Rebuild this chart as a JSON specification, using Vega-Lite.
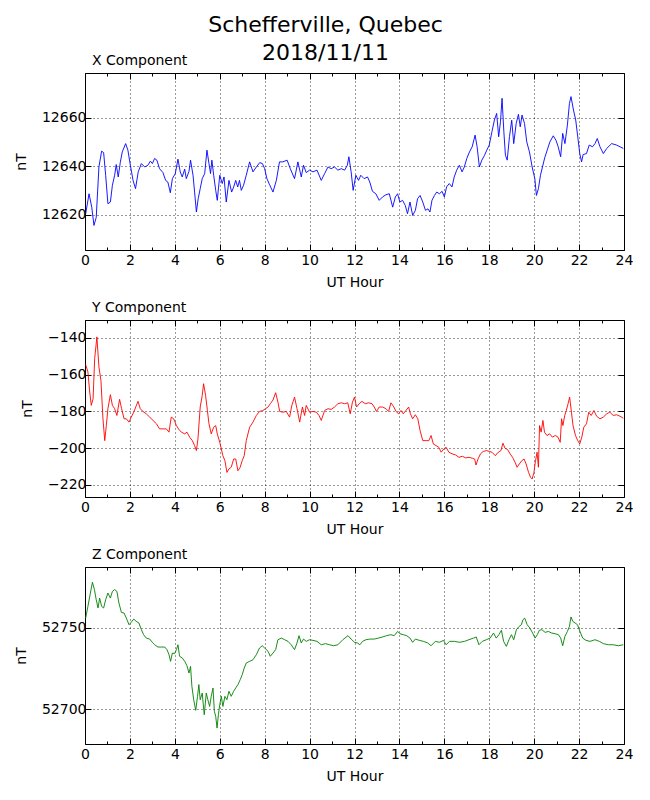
{
  "$schema": "https://vega.github.io/schema/vega-lite/v6.json",
  "background": "white",
  "padding": {"left": 13, "top": 14, "right": 10, "bottom": 10},
  "title": {
    "text": ["Schefferville, Quebec", "2018/11/11"],
    "font": "DejaVu Sans",
    "fontSize": 22,
    "fontWeight": "normal",
    "color": "black",
    "lineHeight": 27.7,
    "anchor": "middle",
    "frame": "group",
    "offset": -12,
    "dx": -29
  },
  "spacing": 70,
  "bounds": "flush",
  "datasets": {
    "xc": [
      {"h":0.03,"v":12620.5},{"h":0.18,"v":12628.7},{"h":0.3,"v":12623.2},{"h":0.4,"v":12615.7},{"h":0.5,"v":12619},{"h":0.62,"v":12639.7},{"h":0.74,"v":12646.2},{"h":0.83,"v":12645.6},{"h":0.92,"v":12636.3},{"h":1.02,"v":12624.6},{"h":1.13,"v":12625.3},{"h":1.22,"v":12632.2},{"h":1.32,"v":12636.3},{"h":1.39,"v":12640.7},{"h":1.48,"v":12635.6},{"h":1.57,"v":12641.5},{"h":1.66,"v":12645.9},{"h":1.81,"v":12649.3},{"h":1.91,"v":12646.6},{"h":2.02,"v":12640.4},{"h":2.14,"v":12634.2},{"h":2.25,"v":12630.8},{"h":2.37,"v":12637.7},{"h":2.51,"v":12641.1},{"h":2.66,"v":12639.7},{"h":2.8,"v":12640.4},{"h":2.91,"v":12642.1},{"h":3.0,"v":12641.1},{"h":3.1,"v":12643.2},{"h":3.2,"v":12642.5},{"h":3.32,"v":12639},{"h":3.47,"v":12637.4},{"h":3.59,"v":12634.2},{"h":3.69,"v":12633.5},{"h":3.8,"v":12629.1},{"h":3.89,"v":12634.9},{"h":4.02,"v":12637},{"h":4.14,"v":12642.9},{"h":4.24,"v":12637.7},{"h":4.33,"v":12635.6},{"h":4.44,"v":12638.8},{"h":4.51,"v":12634.9},{"h":4.63,"v":12637.9},{"h":4.7,"v":12642.5},{"h":4.81,"v":12636.3},{"h":4.88,"v":12629.4},{"h":4.96,"v":12621.2},{"h":5.04,"v":12626.7},{"h":5.13,"v":12630.8},{"h":5.22,"v":12634.9},{"h":5.33,"v":12637},{"h":5.43,"v":12646.6},{"h":5.52,"v":12641.1},{"h":5.59,"v":12637},{"h":5.65,"v":12642.5},{"h":5.73,"v":12636.3},{"h":5.82,"v":12630.1},{"h":5.89,"v":12626},{"h":6.0,"v":12636.3},{"h":6.11,"v":12632.9},{"h":6.19,"v":12635.6},{"h":6.29,"v":12625.3},{"h":6.41,"v":12634.2},{"h":6.53,"v":12629.4},{"h":6.62,"v":12631.5},{"h":6.71,"v":12634.2},{"h":6.8,"v":12631.5},{"h":6.88,"v":12634.2},{"h":6.96,"v":12630.1},{"h":7.06,"v":12632.2},{"h":7.18,"v":12636.3},{"h":7.33,"v":12641.8},{"h":7.48,"v":12637.7},{"h":7.63,"v":12639.7},{"h":7.78,"v":12641.5},{"h":7.9,"v":12641.1},{"h":8.0,"v":12639},{"h":8.1,"v":12634.9},{"h":8.22,"v":12632.4},{"h":8.37,"v":12629.4},{"h":8.52,"v":12634.2},{"h":8.66,"v":12641.8},{"h":8.81,"v":12641.8},{"h":9.0,"v":12642.5},{"h":9.14,"v":12639},{"h":9.33,"v":12634.9},{"h":9.48,"v":12641.8},{"h":9.63,"v":12635.6},{"h":9.73,"v":12640.4},{"h":9.85,"v":12637.4},{"h":10.0,"v":12638.4},{"h":10.15,"v":12637.7},{"h":10.33,"v":12638.4},{"h":10.52,"v":12634.2},{"h":10.67,"v":12637},{"h":10.82,"v":12639.7},{"h":10.96,"v":12639},{"h":11.11,"v":12639.7},{"h":11.26,"v":12638.4},{"h":11.41,"v":12639},{"h":11.56,"v":12638.4},{"h":11.68,"v":12640.4},{"h":11.75,"v":12643.9},{"h":11.85,"v":12637.7},{"h":11.94,"v":12630.1},{"h":12.06,"v":12636.3},{"h":12.18,"v":12634.2},{"h":12.28,"v":12636.3},{"h":12.43,"v":12634.9},{"h":12.58,"v":12635.6},{"h":12.68,"v":12633.5},{"h":12.8,"v":12629.7},{"h":12.95,"v":12628.7},{"h":13.1,"v":12626},{"h":13.25,"v":12627.4},{"h":13.4,"v":12628.3},{"h":13.55,"v":12628.7},{"h":13.7,"v":12623.2},{"h":13.82,"v":12627.4},{"h":13.92,"v":12628.7},{"h":14.02,"v":12625.3},{"h":14.14,"v":12626},{"h":14.26,"v":12623.9},{"h":14.36,"v":12620.5},{"h":14.47,"v":12625.3},{"h":14.59,"v":12619.8},{"h":14.71,"v":12621.9},{"h":14.81,"v":12626.7},{"h":14.92,"v":12628},{"h":15.04,"v":12625.3},{"h":15.16,"v":12621.9},{"h":15.27,"v":12622.5},{"h":15.36,"v":12621.2},{"h":15.45,"v":12626},{"h":15.56,"v":12628},{"h":15.66,"v":12629.4},{"h":15.78,"v":12628.7},{"h":15.9,"v":12629.7},{"h":16.0,"v":12627.4},{"h":16.1,"v":12631.5},{"h":16.22,"v":12632.9},{"h":16.34,"v":12631.5},{"h":16.44,"v":12635.6},{"h":16.55,"v":12638.4},{"h":16.67,"v":12640.4},{"h":16.79,"v":12637.7},{"h":16.89,"v":12639.7},{"h":17.0,"v":12643.2},{"h":17.12,"v":12645.9},{"h":17.24,"v":12648},{"h":17.37,"v":12652.8},{"h":17.46,"v":12648},{"h":17.56,"v":12639.7},{"h":17.67,"v":12642.5},{"h":17.79,"v":12644.5},{"h":17.89,"v":12646.6},{"h":18.0,"v":12648.7},{"h":18.12,"v":12654.2},{"h":18.23,"v":12659},{"h":18.33,"v":12661.7},{"h":18.42,"v":12652.1},{"h":18.5,"v":12658.3},{"h":18.57,"v":12667.9},{"h":18.65,"v":12654.2},{"h":18.72,"v":12644.5},{"h":18.8,"v":12642.5},{"h":18.9,"v":12652.1},{"h":19.0,"v":12658.9},{"h":19.09,"v":12649.3},{"h":19.2,"v":12657.6},{"h":19.3,"v":12661.3},{"h":19.38,"v":12656.2},{"h":19.46,"v":12661},{"h":19.57,"v":12657.6},{"h":19.67,"v":12650},{"h":19.79,"v":12645.9},{"h":19.91,"v":12639.7},{"h":20.03,"v":12634.9},{"h":20.1,"v":12628},{"h":20.19,"v":12630.8},{"h":20.28,"v":12636.3},{"h":20.37,"v":12639.7},{"h":20.47,"v":12643.5},{"h":20.58,"v":12646.6},{"h":20.7,"v":12650},{"h":20.85,"v":12652.5},{"h":20.97,"v":12650.7},{"h":21.07,"v":12648},{"h":21.18,"v":12643.9},{"h":21.27,"v":12653.5},{"h":21.37,"v":12649.3},{"h":21.48,"v":12656.9},{"h":21.57,"v":12665.8},{"h":21.64,"v":12668.6},{"h":21.75,"v":12663.1},{"h":21.85,"v":12659},{"h":21.95,"v":12651.4},{"h":22.03,"v":12645.2},{"h":22.11,"v":12641.8},{"h":22.18,"v":12644.8},{"h":22.33,"v":12645.2},{"h":22.45,"v":12648.7},{"h":22.6,"v":12648},{"h":22.71,"v":12649.3},{"h":22.81,"v":12651.4},{"h":22.93,"v":12648},{"h":23.08,"v":12645.2},{"h":23.23,"v":12647.3},{"h":23.45,"v":12649.3},{"h":23.67,"v":12648.7},{"h":23.82,"v":12648},{"h":23.97,"v":12647.3}
    ],
    "yc": [
      {"h":0.03,"v":-154.5},{"h":0.13,"v":-158.5},{"h":0.21,"v":-169.4},{"h":0.28,"v":-176.7},{"h":0.36,"v":-173.1},{"h":0.43,"v":-151.2},{"h":0.53,"v":-139.4},{"h":0.62,"v":-155.8},{"h":0.71,"v":-163.1},{"h":0.8,"v":-184},{"h":0.88,"v":-195.9},{"h":0.95,"v":-187.7},{"h":1.02,"v":-178.5},{"h":1.13,"v":-170.9},{"h":1.22,"v":-176.7},{"h":1.32,"v":-178.5},{"h":1.42,"v":-182.2},{"h":1.54,"v":-173.4},{"h":1.63,"v":-178.5},{"h":1.74,"v":-184},{"h":1.84,"v":-184},{"h":1.96,"v":-185.8},{"h":2.06,"v":-183.1},{"h":2.17,"v":-180.4},{"h":2.26,"v":-177.6},{"h":2.36,"v":-174.5},{"h":2.46,"v":-178.5},{"h":2.58,"v":-180},{"h":2.73,"v":-181.3},{"h":2.88,"v":-183.1},{"h":3.03,"v":-184.9},{"h":3.18,"v":-186.7},{"h":3.32,"v":-189.5},{"h":3.47,"v":-189.5},{"h":3.62,"v":-189.5},{"h":3.74,"v":-191.3},{"h":3.84,"v":-183.1},{"h":3.95,"v":-184},{"h":4.07,"v":-187.7},{"h":4.18,"v":-189.8},{"h":4.29,"v":-191.3},{"h":4.44,"v":-192.2},{"h":4.54,"v":-191.3},{"h":4.66,"v":-194},{"h":4.78,"v":-195.9},{"h":4.88,"v":-198.6},{"h":4.96,"v":-201.3},{"h":5.03,"v":-194.9},{"h":5.13,"v":-177.6},{"h":5.22,"v":-171.3},{"h":5.28,"v":-164.9},{"h":5.37,"v":-171.3},{"h":5.45,"v":-179.5},{"h":5.52,"v":-186.7},{"h":5.62,"v":-192.2},{"h":5.73,"v":-188.6},{"h":5.82,"v":-187.7},{"h":5.89,"v":-192.2},{"h":6.0,"v":-196.8},{"h":6.07,"v":-200.4},{"h":6.14,"v":-204.1},{"h":6.23,"v":-206.8},{"h":6.32,"v":-213.2},{"h":6.41,"v":-211.3},{"h":6.51,"v":-210.4},{"h":6.62,"v":-205.9},{"h":6.71,"v":-205.9},{"h":6.81,"v":-212.3},{"h":6.91,"v":-210.4},{"h":7.0,"v":-206.8},{"h":7.09,"v":-204.1},{"h":7.18,"v":-195.9},{"h":7.33,"v":-188.6},{"h":7.48,"v":-185.8},{"h":7.63,"v":-182.2},{"h":7.77,"v":-180},{"h":7.92,"v":-179.5},{"h":8.04,"v":-178.5},{"h":8.15,"v":-177.6},{"h":8.25,"v":-175.8},{"h":8.37,"v":-173.8},{"h":8.49,"v":-169.8},{"h":8.59,"v":-174.9},{"h":8.67,"v":-180},{"h":8.81,"v":-180.4},{"h":8.96,"v":-180},{"h":9.11,"v":-183.1},{"h":9.21,"v":-176.7},{"h":9.33,"v":-172.2},{"h":9.44,"v":-178.5},{"h":9.56,"v":-185.8},{"h":9.68,"v":-177.6},{"h":9.78,"v":-182.2},{"h":9.85,"v":-176.7},{"h":10.0,"v":-180.4},{"h":10.15,"v":-180},{"h":10.3,"v":-180.4},{"h":10.42,"v":-182.2},{"h":10.52,"v":-184.9},{"h":10.67,"v":-179.5},{"h":10.82,"v":-178.5},{"h":10.96,"v":-178.9},{"h":11.11,"v":-177.6},{"h":11.26,"v":-175.8},{"h":11.41,"v":-175.3},{"h":11.56,"v":-175.8},{"h":11.7,"v":-175.3},{"h":11.81,"v":-181.3},{"h":11.91,"v":-174.9},{"h":12.0,"v":-172.2},{"h":12.09,"v":-177.6},{"h":12.21,"v":-175.8},{"h":12.33,"v":-174.5},{"h":12.48,"v":-175.8},{"h":12.63,"v":-175.3},{"h":12.78,"v":-175.8},{"h":12.88,"v":-177.6},{"h":12.98,"v":-180},{"h":13.1,"v":-177.6},{"h":13.25,"v":-177.6},{"h":13.4,"v":-178.5},{"h":13.52,"v":-180},{"h":13.62,"v":-175.3},{"h":13.73,"v":-177.1},{"h":13.85,"v":-180},{"h":13.96,"v":-181.3},{"h":14.07,"v":-179.5},{"h":14.17,"v":-181.3},{"h":14.29,"v":-179.5},{"h":14.41,"v":-177.6},{"h":14.49,"v":-181.3},{"h":14.59,"v":-184},{"h":14.71,"v":-181.8},{"h":14.82,"v":-184},{"h":14.92,"v":-190.4},{"h":15.04,"v":-195.9},{"h":15.19,"v":-195.9},{"h":15.31,"v":-195.9},{"h":15.41,"v":-193.1},{"h":15.51,"v":-197.7},{"h":15.63,"v":-198.6},{"h":15.75,"v":-199.5},{"h":15.86,"v":-202.2},{"h":15.98,"v":-200.4},{"h":16.08,"v":-199.5},{"h":16.2,"v":-202.2},{"h":16.35,"v":-203.1},{"h":16.5,"v":-203.7},{"h":16.65,"v":-205},{"h":16.8,"v":-204.4},{"h":16.95,"v":-205.3},{"h":17.1,"v":-205},{"h":17.25,"v":-205.5},{"h":17.35,"v":-205.9},{"h":17.41,"v":-209.2},{"h":17.5,"v":-205.9},{"h":17.61,"v":-203.1},{"h":17.73,"v":-201.8},{"h":17.88,"v":-201.3},{"h":18.0,"v":-201.8},{"h":18.12,"v":-202.2},{"h":18.27,"v":-204.1},{"h":18.37,"v":-202.6},{"h":18.52,"v":-201.3},{"h":18.61,"v":-197.3},{"h":18.7,"v":-200},{"h":18.82,"v":-200.8},{"h":18.93,"v":-203.1},{"h":19.04,"v":-205},{"h":19.15,"v":-207.7},{"h":19.24,"v":-210.4},{"h":19.34,"v":-208.6},{"h":19.45,"v":-206.8},{"h":19.55,"v":-205.9},{"h":19.64,"v":-208.6},{"h":19.75,"v":-213.2},{"h":19.84,"v":-215.9},{"h":19.91,"v":-216.8},{"h":19.99,"v":-213.2},{"h":20.06,"v":-206.8},{"h":20.13,"v":-202.2},{"h":20.19,"v":-210.4},{"h":20.24,"v":-187.7},{"h":20.31,"v":-191.3},{"h":20.39,"v":-184.9},{"h":20.46,"v":-191.3},{"h":20.57,"v":-193.1},{"h":20.69,"v":-192.2},{"h":20.81,"v":-194},{"h":20.94,"v":-193.1},{"h":21.06,"v":-194},{"h":21.16,"v":-196.8},{"h":21.22,"v":-184},{"h":21.28,"v":-187.7},{"h":21.36,"v":-182.2},{"h":21.43,"v":-179.5},{"h":21.51,"v":-175.8},{"h":21.58,"v":-172.2},{"h":21.66,"v":-180.4},{"h":21.73,"v":-187.7},{"h":21.84,"v":-193.1},{"h":21.94,"v":-195.9},{"h":22.03,"v":-197.7},{"h":22.12,"v":-194},{"h":22.21,"v":-188.6},{"h":22.33,"v":-186.7},{"h":22.43,"v":-180.4},{"h":22.54,"v":-182.2},{"h":22.66,"v":-179.5},{"h":22.78,"v":-182.6},{"h":22.93,"v":-184},{"h":23.08,"v":-183.1},{"h":23.23,"v":-181.3},{"h":23.37,"v":-180.4},{"h":23.52,"v":-182.2},{"h":23.67,"v":-181.8},{"h":23.82,"v":-182.6},{"h":23.97,"v":-183.7}
    ],
    "zc": [
      {"h":0.03,"v":52755.9},{"h":0.13,"v":52763.1},{"h":0.24,"v":52771.3},{"h":0.33,"v":52777.9},{"h":0.42,"v":52773.4},{"h":0.5,"v":52767.2},{"h":0.58,"v":52762.1},{"h":0.65,"v":52768.2},{"h":0.74,"v":52763.1},{"h":0.83,"v":52762.1},{"h":0.92,"v":52767.2},{"h":1.02,"v":52771.3},{"h":1.13,"v":52768.2},{"h":1.22,"v":52772.3},{"h":1.32,"v":52773.4},{"h":1.42,"v":52772.3},{"h":1.51,"v":52765.2},{"h":1.62,"v":52759.4},{"h":1.74,"v":52759},{"h":1.84,"v":52755.9},{"h":1.96,"v":52751.8},{"h":2.06,"v":52753.3},{"h":2.17,"v":52755.3},{"h":2.28,"v":52753.9},{"h":2.4,"v":52752.9},{"h":2.51,"v":52748.8},{"h":2.61,"v":52745.7},{"h":2.73,"v":52743.6},{"h":2.88,"v":52743},{"h":3.0,"v":52741},{"h":3.1,"v":52739.5},{"h":3.25,"v":52738.1},{"h":3.4,"v":52738.1},{"h":3.55,"v":52738.1},{"h":3.65,"v":52736.5},{"h":3.74,"v":52733.4},{"h":3.81,"v":52729.3},{"h":3.89,"v":52734.4},{"h":3.99,"v":52734},{"h":4.07,"v":52736.5},{"h":4.14,"v":52739.5},{"h":4.21,"v":52732.4},{"h":4.33,"v":52731.4},{"h":4.44,"v":52729.3},{"h":4.54,"v":52726.6},{"h":4.63,"v":52722.1},{"h":4.7,"v":52726.2},{"h":4.76,"v":52713.9},{"h":4.84,"v":52705.7},{"h":4.93,"v":52699.2},{"h":5.01,"v":52707.8},{"h":5.07,"v":52715},{"h":5.13,"v":52705.7},{"h":5.22,"v":52709.8},{"h":5.31,"v":52696.5},{"h":5.4,"v":52709.8},{"h":5.47,"v":52705.7},{"h":5.55,"v":52701.6},{"h":5.62,"v":52707.8},{"h":5.7,"v":52712.9},{"h":5.76,"v":52698.6},{"h":5.82,"v":52695.5},{"h":5.88,"v":52688.3},{"h":5.94,"v":52696.5},{"h":6.0,"v":52702.7},{"h":6.07,"v":52707.8},{"h":6.14,"v":52701.6},{"h":6.23,"v":52707.8},{"h":6.32,"v":52705.7},{"h":6.41,"v":52710.9},{"h":6.51,"v":52707.8},{"h":6.62,"v":52710.9},{"h":6.71,"v":52712.9},{"h":6.81,"v":52715},{"h":6.91,"v":52718},{"h":7.0,"v":52721.1},{"h":7.09,"v":52725.2},{"h":7.18,"v":52728.3},{"h":7.33,"v":52729.3},{"h":7.48,"v":52730.3},{"h":7.63,"v":52733.4},{"h":7.77,"v":52737.5},{"h":7.89,"v":52738.9},{"h":8.0,"v":52737.5},{"h":8.15,"v":52735.5},{"h":8.25,"v":52732.4},{"h":8.37,"v":52734.4},{"h":8.49,"v":52736.5},{"h":8.59,"v":52742.6},{"h":8.74,"v":52743.6},{"h":8.89,"v":52742.6},{"h":9.04,"v":52741.6},{"h":9.18,"v":52739.5},{"h":9.33,"v":52736.5},{"h":9.44,"v":52740.6},{"h":9.53,"v":52745.1},{"h":9.63,"v":52740.6},{"h":9.73,"v":52743},{"h":9.85,"v":52741.6},{"h":10.0,"v":52742.6},{"h":10.15,"v":52742.2},{"h":10.33,"v":52741.6},{"h":10.52,"v":52739.5},{"h":10.71,"v":52740.2},{"h":10.89,"v":52739.5},{"h":11.07,"v":52738.9},{"h":11.26,"v":52739.5},{"h":11.48,"v":52742.6},{"h":11.71,"v":52745.1},{"h":11.85,"v":52743},{"h":12.0,"v":52741},{"h":12.13,"v":52740.6},{"h":12.24,"v":52739.5},{"h":12.36,"v":52741.6},{"h":12.51,"v":52742.6},{"h":12.68,"v":52743},{"h":12.88,"v":52743},{"h":13.07,"v":52743.6},{"h":13.25,"v":52744.3},{"h":13.43,"v":52745.1},{"h":13.62,"v":52745.7},{"h":13.77,"v":52745.1},{"h":13.92,"v":52747.7},{"h":14.02,"v":52746.3},{"h":14.17,"v":52745.7},{"h":14.32,"v":52745.1},{"h":14.47,"v":52743.6},{"h":14.59,"v":52741},{"h":14.71,"v":52743},{"h":14.89,"v":52742.2},{"h":15.07,"v":52741.6},{"h":15.26,"v":52740.6},{"h":15.41,"v":52738.9},{"h":15.6,"v":52741.6},{"h":15.78,"v":52741},{"h":15.96,"v":52742.2},{"h":16.08,"v":52739.5},{"h":16.23,"v":52741.6},{"h":16.45,"v":52741.6},{"h":16.67,"v":52741},{"h":16.9,"v":52741.6},{"h":17.09,"v":52742.6},{"h":17.3,"v":52743.6},{"h":17.42,"v":52744.3},{"h":17.54,"v":52739.5},{"h":17.69,"v":52741.6},{"h":17.87,"v":52742.6},{"h":18.04,"v":52743.6},{"h":18.19,"v":52746.7},{"h":18.31,"v":52743.6},{"h":18.43,"v":52745.7},{"h":18.54,"v":52748.4},{"h":18.64,"v":52741.6},{"h":18.76,"v":52738.5},{"h":18.88,"v":52742.6},{"h":18.99,"v":52745.7},{"h":19.09,"v":52742.6},{"h":19.21,"v":52748.8},{"h":19.33,"v":52750.8},{"h":19.43,"v":52751.8},{"h":19.5,"v":52754.9},{"h":19.58,"v":52755.9},{"h":19.69,"v":52751.8},{"h":19.81,"v":52749.8},{"h":19.93,"v":52746.7},{"h":20.04,"v":52743.6},{"h":20.14,"v":52745.7},{"h":20.23,"v":52748.4},{"h":20.34,"v":52748.8},{"h":20.49,"v":52747.1},{"h":20.63,"v":52747.7},{"h":20.78,"v":52746.7},{"h":20.93,"v":52746.3},{"h":21.08,"v":52745.7},{"h":21.18,"v":52743.6},{"h":21.27,"v":52738.9},{"h":21.37,"v":52744.7},{"h":21.48,"v":52747.7},{"h":21.57,"v":52750.8},{"h":21.64,"v":52756.6},{"h":21.72,"v":52753.9},{"h":21.82,"v":52752.9},{"h":21.93,"v":52751.8},{"h":22.04,"v":52747.7},{"h":22.16,"v":52743.6},{"h":22.31,"v":52742.2},{"h":22.49,"v":52741.6},{"h":22.71,"v":52742.6},{"h":22.9,"v":52741.6},{"h":23.08,"v":52740.2},{"h":23.3,"v":52739.5},{"h":23.52,"v":52739.5},{"h":23.75,"v":52738.9},{"h":23.97,"v":52739.5}
    ]
  },
  "vconcat": [
    {
      "title": {"text": "X Component"},
      "width": 539,
      "height": 177,
      "data": {"name": "xc"},
      "encoding": {
        "x": {"field": "h", "type": "quantitative", "scale": {"domain": [0, 24], "nice": false}},
        "y": {"field": "v", "type": "quantitative", "scale": {"domain": [12605.6, 12678.3], "nice": false, "zero": false}}
      },
      "layer": [
        {
          "mark": {"type": "line", "color": "#0000ff", "strokeWidth": 0.9},
          "encoding": {
            "x": {"field": "h", "type": "quantitative", "axis": {"title": "UT Hour", "values": [0,1,2,3,4,5,6,7,8,9,10,11,12,13,14,15,16,17,18,19,20,21,22,23,24], "labelExpr": "datum.value % 2 == 0 ? datum.label : ''", "gridOpacity": {"condition": {"test": "datum.value % 2 == 0", "value": 1}, "value": 0}, "tickSize": {"condition": {"test": "datum.value % 2 == 0", "value": -6}, "value": -3}}},
            "y": {"field": "v", "type": "quantitative", "axis": {"title": "nT", "values": [12620, 12640, 12660], "format": "d"}}
          }
        },
        {
          "mark": {"type": "line", "strokeOpacity": 0},
          "encoding": {
            "x": {"field": "h", "type": "quantitative", "axis": {"orient": "top", "title": null, "labels": false, "grid": false, "values": [0,1,2,3,4,5,6,7,8,9,10,11,12,13,14,15,16,17,18,19,20,21,22,23,24], "tickSize": {"condition": {"test": "datum.value % 2 == 0", "value": -6}, "value": -3}}},
            "y": {"field": "v", "type": "quantitative", "axis": {"orient": "right", "title": null, "labels": false, "grid": false, "values": [12620, 12640, 12660]}}
          }
        }
      ],
      "resolve": {"axis": {"x": "independent", "y": "independent"}}
    },
    {
      "title": {"text": "Y Component"},
      "width": 539,
      "height": 177,
      "data": {"name": "yc"},
      "encoding": {
        "x": {"field": "h", "type": "quantitative", "scale": {"domain": [0, 24], "nice": false}},
        "y": {"field": "v", "type": "quantitative", "scale": {"domain": [-226.6, -130.2], "nice": false, "zero": false}}
      },
      "layer": [
        {
          "mark": {"type": "line", "color": "#ff0000", "strokeWidth": 0.9},
          "encoding": {
            "x": {"field": "h", "type": "quantitative", "axis": {"title": "UT Hour", "values": [0,1,2,3,4,5,6,7,8,9,10,11,12,13,14,15,16,17,18,19,20,21,22,23,24], "labelExpr": "datum.value % 2 == 0 ? datum.label : ''", "gridOpacity": {"condition": {"test": "datum.value % 2 == 0", "value": 1}, "value": 0}, "tickSize": {"condition": {"test": "datum.value % 2 == 0", "value": -6}, "value": -3}}},
            "y": {"field": "v", "type": "quantitative", "axis": {"title": "nT", "values": [-220, -200, -180, -160, -140], "format": "d"}}
          }
        },
        {
          "mark": {"type": "line", "strokeOpacity": 0},
          "encoding": {
            "x": {"field": "h", "type": "quantitative", "axis": {"orient": "top", "title": null, "labels": false, "grid": false, "values": [0,1,2,3,4,5,6,7,8,9,10,11,12,13,14,15,16,17,18,19,20,21,22,23,24], "tickSize": {"condition": {"test": "datum.value % 2 == 0", "value": -6}, "value": -3}}},
            "y": {"field": "v", "type": "quantitative", "axis": {"orient": "right", "title": null, "labels": false, "grid": false, "values": [-220, -200, -180, -160, -140]}}
          }
        }
      ],
      "resolve": {"axis": {"x": "independent", "y": "independent"}}
    },
    {
      "title": {"text": "Z Component"},
      "width": 539,
      "height": 177,
      "data": {"name": "zc"},
      "encoding": {
        "x": {"field": "h", "type": "quantitative", "scale": {"domain": [0, 24], "nice": false}},
        "y": {"field": "v", "type": "quantitative", "scale": {"domain": [52678.5, 52787.3], "nice": false, "zero": false}}
      },
      "layer": [
        {
          "mark": {"type": "line", "color": "#008000", "strokeWidth": 0.9},
          "encoding": {
            "x": {"field": "h", "type": "quantitative", "axis": {"title": "UT Hour", "values": [0,1,2,3,4,5,6,7,8,9,10,11,12,13,14,15,16,17,18,19,20,21,22,23,24], "labelExpr": "datum.value % 2 == 0 ? datum.label : ''", "gridOpacity": {"condition": {"test": "datum.value % 2 == 0", "value": 1}, "value": 0}, "tickSize": {"condition": {"test": "datum.value % 2 == 0", "value": -6}, "value": -3}}},
            "y": {"field": "v", "type": "quantitative", "axis": {"title": "nT", "values": [52700, 52750], "format": "d"}}
          }
        },
        {
          "mark": {"type": "line", "strokeOpacity": 0},
          "encoding": {
            "x": {"field": "h", "type": "quantitative", "axis": {"orient": "top", "title": null, "labels": false, "grid": false, "values": [0,1,2,3,4,5,6,7,8,9,10,11,12,13,14,15,16,17,18,19,20,21,22,23,24], "tickSize": {"condition": {"test": "datum.value % 2 == 0", "value": -6}, "value": -3}}},
            "y": {"field": "v", "type": "quantitative", "axis": {"orient": "right", "title": null, "labels": false, "grid": false, "values": [52700, 52750]}}
          }
        }
      ],
      "resolve": {"axis": {"x": "independent", "y": "independent"}}
    }
  ],
  "config": {
    "font": "DejaVu Sans",
    "view": {"stroke": "black", "strokeWidth": 1},
    "title": {"font": "DejaVu Sans", "fontSize": 14, "fontWeight": "normal", "color": "black", "anchor": "start", "frame": "group", "offset": 5, "dx": 7},
    "axis": {
      "domain": false,
      "labelFont": "DejaVu Sans",
      "labelFontSize": 14,
      "labelColor": "black",
      "labelPadding": 9,
      "labelFlush": false,
      "titleFont": "DejaVu Sans",
      "titleFontSize": 14,
      "titleFontWeight": "normal",
      "titleColor": "black",
      "titlePadding": 8,
      "tickColor": "black",
      "tickWidth": 1,
      "tickSize": -6,
      "grid": true,
      "gridColor": "black",
      "gridDash": [1, 3],
      "gridWidth": 0.8,
      "gridOpacity": 1
    },
    "axisY": {"titlePadding": 13, "labelPadding": 5}
  }
}
